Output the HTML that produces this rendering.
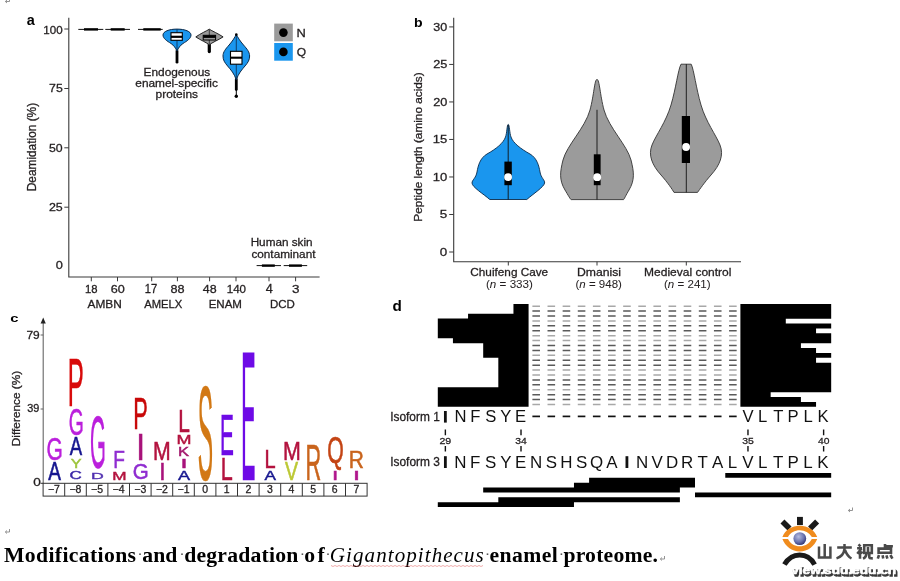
<!DOCTYPE html>
<html><head><meta charset="utf-8"><style>
html,body{margin:0;padding:0;background:#fff;}
body{width:900px;height:581px;overflow:hidden;font-family:"Liberation Sans",sans-serif;}
svg{display:block;will-change:transform;}
</style></head><body>
<svg width="900" height="581" viewBox="0 0 900 581">
<rect width="900" height="581" fill="#fff"/>
<text font-family="Liberation Sans" font-size="100" font-weight="bold" fill="#000"  transform="matrix(0.14460,0,0,0.14247,26.866,24.758)">a</text>
<path d="M68.8,17.8V277H319.6" fill="none" stroke="#3a3a3a" stroke-width="1.1"/>
<path d="M64.3,29H68.8" stroke="#3a3a3a" stroke-width="1"/>
<path d="M64.3,88.5H68.8" stroke="#3a3a3a" stroke-width="1"/>
<path d="M64.3,147.8H68.8" stroke="#3a3a3a" stroke-width="1"/>
<path d="M64.3,207.2H68.8" stroke="#3a3a3a" stroke-width="1"/>
<text font-family="Liberation Sans" font-size="100" fill="#231f20" stroke="#231f20" stroke-width="0.3" vector-effect="non-scaling-stroke"  transform="matrix(0.11576,0,0,0.10883,43.332,33.791)">100</text>
<text font-family="Liberation Sans" font-size="100" fill="#231f20" stroke="#231f20" stroke-width="0.3" vector-effect="non-scaling-stroke"  transform="matrix(0.12285,0,0,0.11183,49.055,92.288)">75</text>
<text font-family="Liberation Sans" font-size="100" fill="#231f20" stroke="#231f20" stroke-width="0.3" vector-effect="non-scaling-stroke"  transform="matrix(0.12300,0,0,0.11025,49.008,151.590)">50</text>
<text font-family="Liberation Sans" font-size="100" fill="#231f20" stroke="#231f20" stroke-width="0.3" vector-effect="non-scaling-stroke"  transform="matrix(0.12451,0,0,0.11025,48.877,210.990)">25</text>
<text font-family="Liberation Sans" font-size="100" fill="#231f20" stroke="#231f20" stroke-width="0.3" vector-effect="non-scaling-stroke"  transform="matrix(0.12775,0,0,0.11025,55.689,269.390)">0</text>
<text font-family="Liberation Sans" font-size="100" fill="#231f20" stroke="#231f20" stroke-width="0.3" vector-effect="non-scaling-stroke" transform="matrix(0,-0.11886,0.11927,0,36.400,191.281)">Deamidation (%)</text>
<path d="M91.3,277V281.3" stroke="#3a3a3a" stroke-width="1"/>
<text font-family="Liberation Sans" font-size="100" fill="#231f20" stroke="#231f20" stroke-width="0.3" vector-effect="non-scaling-stroke"  transform="matrix(0.11285,0,0,0.11731,84.954,292.783)">18</text>
<path d="M117.5,277V281.3" stroke="#3a3a3a" stroke-width="1"/>
<text font-family="Liberation Sans" font-size="100" fill="#231f20" stroke="#231f20" stroke-width="0.3" vector-effect="non-scaling-stroke"  transform="matrix(0.12616,0,0,0.11731,110.669,292.783)">60</text>
<path d="M151.7,277V281.3" stroke="#3a3a3a" stroke-width="1"/>
<text font-family="Liberation Sans" font-size="100" fill="#231f20" stroke="#231f20" stroke-width="0.3" vector-effect="non-scaling-stroke"  transform="matrix(0.11168,0,0,0.12073,144.762,292.900)">17</text>
<path d="M177.4,277V281.3" stroke="#3a3a3a" stroke-width="1"/>
<text font-family="Liberation Sans" font-size="100" fill="#231f20" stroke="#231f20" stroke-width="0.3" vector-effect="non-scaling-stroke"  transform="matrix(0.12683,0,0,0.11731,170.461,292.783)">88</text>
<path d="M209.6,277V281.3" stroke="#3a3a3a" stroke-width="1"/>
<text font-family="Liberation Sans" font-size="100" fill="#231f20" stroke="#231f20" stroke-width="0.3" vector-effect="non-scaling-stroke"  transform="matrix(0.12440,0,0,0.11731,202.720,292.783)">48</text>
<path d="M236,277V281.3" stroke="#3a3a3a" stroke-width="1"/>
<text font-family="Liberation Sans" font-size="100" fill="#231f20" stroke="#231f20" stroke-width="0.3" vector-effect="non-scaling-stroke"  transform="matrix(0.11576,0,0,0.11731,226.732,292.783)">140</text>
<path d="M269,277V281.3" stroke="#3a3a3a" stroke-width="1"/>
<text font-family="Liberation Sans" font-size="100" fill="#231f20" stroke="#231f20" stroke-width="0.3" vector-effect="non-scaling-stroke"  transform="matrix(0.12673,0,0,0.12073,265.715,292.900)">4</text>
<path d="M295.6,277V281.3" stroke="#3a3a3a" stroke-width="1"/>
<text font-family="Liberation Sans" font-size="100" fill="#231f20" stroke="#231f20" stroke-width="0.3" vector-effect="non-scaling-stroke"  transform="matrix(0.13474,0,0,0.11731,292.095,292.783)">3</text>
<text font-family="Liberation Sans" font-size="100" fill="#231f20" stroke="#231f20" stroke-width="0.3" vector-effect="non-scaling-stroke" transform="matrix(0.11872,0,0,0.11636,87.470,308.200)">AMBN</text>
<text font-family="Liberation Sans" font-size="100" fill="#231f20" stroke="#231f20" stroke-width="0.3" vector-effect="non-scaling-stroke" transform="matrix(0.11233,0,0,0.11636,144.172,308.200)">AMELX</text>
<text font-family="Liberation Sans" font-size="100" fill="#231f20" stroke="#231f20" stroke-width="0.3" vector-effect="non-scaling-stroke" transform="matrix(0.11534,0,0,0.11636,208.648,308.200)">ENAM</text>
<text font-family="Liberation Sans" font-size="100" fill="#231f20" stroke="#231f20" stroke-width="0.3" vector-effect="non-scaling-stroke" transform="matrix(0.11485,0,0,0.11636,270.053,308.200)">DCD</text>
<path d="M78.3,29.4H103.3" stroke="#111" stroke-width="1"/><path d="M84,29.4H98" stroke="#000" stroke-width="2.4"/>
<path d="M105.3,29.4H130" stroke="#111" stroke-width="1"/><path d="M110.7,29.4H124.7" stroke="#000" stroke-width="2.4"/>
<path d="M138,29.4H162.7" stroke="#111" stroke-width="1"/><path d="M143.3,29.4H160.7" stroke="#000" stroke-width="2.4"/>
<path d="M256.6,265.6H281" stroke="#111" stroke-width="1"/><path d="M261.9,265.6H274.8" stroke="#000" stroke-width="2.4"/>
<path d="M283.7,265.6H307.2" stroke="#111" stroke-width="1"/><path d="M289,265.6H301.9" stroke="#000" stroke-width="2.4"/>
<path d="M177,51V62.2" stroke="#000" stroke-width="2.8" stroke-linecap="round"/>
<path d="M177,29.1C185,29.1 191,31.5 191,35C191,38.5 187,41 183,43.5C180,45.5 178.5,48 177,51C175.5,48 174,45.5 171,43.5C167,41 163,38.5 163,35C163,31.5 169,29.1 177,29.1Z" fill="#1a96ee" stroke="#0b2a4a" stroke-width="1"/>
<path d="M177,29.3V51" stroke="#0b2a4a" stroke-width="0.8"/>
<rect x="171" y="32.7" width="11.3" height="7.6" fill="#fff" stroke="#000" stroke-width="1.1"/><path d="M171,36.8H182.3" stroke="#000" stroke-width="2.2"/>
<path d="M209.3,44.5V51.6" stroke="#000" stroke-width="3.2" stroke-linecap="round"/>
<path d="M209.3,29.2C212,31 218,33.5 223.1,36.9C218,40.2 212,42.5 209.3,44.9C206.6,42.5 200.6,40.2 195.8,36.9C200.6,33.5 206.6,31 209.3,29.2Z" fill="#9b9b9b" stroke="#222" stroke-width="1" stroke-linejoin="round"/>
<path d="M209.3,29.4V44.8" stroke="#222" stroke-width="0.8"/>
<rect x="203.2" y="35.3" width="12.4" height="4.7" fill="#9b9b9b" stroke="#000" stroke-width="1"/><path d="M203.2,36.6H215.6" stroke="#000" stroke-width="2.6"/>
<path d="M236.3,79.5V89.5" stroke="#000" stroke-width="2.8" stroke-linecap="round"/><path d="M236.3,89V96" stroke="#000" stroke-width="1"/><circle cx="236.3" cy="96.2" r="1.7" fill="#000"/>
<path d="M236.3,34.2C237.5,37 240,41 243.5,45C247,49 249.6,52 249.6,56C249.6,60 248,62.5 245,66C242,69.5 238,74 236.3,80C234.6,74 230.6,69.5 227.6,66C224.6,62.5 223,60 223,56C223,52 225.6,49 229.1,45C232.6,41 235.1,37 236.3,34.2Z" fill="#1a96ee" stroke="#0b2a4a" stroke-width="1"/>
<path d="M236.3,34.4V80" stroke="#0b2a4a" stroke-width="0.8"/><circle cx="236.3" cy="34.6" r="1.3" fill="#000"/>
<rect x="230.5" y="51.3" width="11.5" height="12.9" fill="#fff" stroke="#000" stroke-width="1.1"/><path d="M230.5,57.7H242" stroke="#000" stroke-width="2.1"/>
<text font-family="Liberation Sans" font-size="100" fill="#231f20" stroke="#231f20" stroke-width="0.3" vector-effect="non-scaling-stroke" transform="matrix(0.11855,0,0,0.11636,143.622,75.600)">Endogenous</text>
<text font-family="Liberation Sans" font-size="100" fill="#231f20" stroke="#231f20" stroke-width="0.3" vector-effect="non-scaling-stroke" transform="matrix(0.11894,0,0,0.11636,135.295,87.200)">enamel-specific</text>
<text font-family="Liberation Sans" font-size="100" fill="#231f20" stroke="#231f20" stroke-width="0.3" vector-effect="non-scaling-stroke" transform="matrix(0.11945,0,0,0.11636,155.524,97.800)">proteins</text>
<text font-family="Liberation Sans" font-size="100" fill="#231f20" stroke="#231f20" stroke-width="0.3" vector-effect="non-scaling-stroke" transform="matrix(0.11749,0,0,0.11636,250.631,246.000)">Human skin</text>
<text font-family="Liberation Sans" font-size="100" fill="#231f20" stroke="#231f20" stroke-width="0.3" vector-effect="non-scaling-stroke" transform="matrix(0.11783,0,0,0.11636,251.399,257.600)">contaminant</text>
<rect x="274.2" y="23.6" width="18.6" height="17.7" fill="#9b9b9b"/><rect x="274.2" y="43" width="18.6" height="17.7" fill="#1a96ee"/>
<circle cx="283.4" cy="32.6" r="4.3" fill="#000"/><circle cx="283.4" cy="51.9" r="4.3" fill="#000"/>
<text font-family="Liberation Sans" font-size="100" fill="#231f20" stroke="#231f20" stroke-width="0.3" vector-effect="non-scaling-stroke" transform="matrix(0.12915,0,0,0.11782,296.535,37.000)">N</text>
<text font-family="Liberation Sans" font-size="100" fill="#231f20" stroke="#231f20" stroke-width="0.3" vector-effect="non-scaling-stroke" transform="matrix(0.12015,0,0,0.11636,296.829,56.200)">Q</text>
<text font-family="Liberation Sans" font-size="100" font-weight="bold" fill="#000"  transform="matrix(0.14059,0,0,0.12381,413.986,26.776)">b</text>
<path d="M453.7,17.8V261.7H741" fill="none" stroke="#3a3a3a" stroke-width="1.1"/>
<path d="M449.2,252.00H453.7" stroke="#3a3a3a" stroke-width="1"/>
<text font-family="Liberation Sans" font-size="100" fill="#231f20" stroke="#231f20" stroke-width="0.3" vector-effect="non-scaling-stroke"  transform="matrix(0.13403,0,0,0.11025,439.864,255.790)">0</text>
<path d="M449.2,214.49H453.7" stroke="#3a3a3a" stroke-width="1"/>
<text font-family="Liberation Sans" font-size="100" fill="#231f20" stroke="#231f20" stroke-width="0.3" vector-effect="non-scaling-stroke"  transform="matrix(0.13474,0,0,0.11183,439.861,218.273)">5</text>
<path d="M449.2,176.97H453.7" stroke="#3a3a3a" stroke-width="1"/>
<text font-family="Liberation Sans" font-size="100" fill="#231f20" stroke="#231f20" stroke-width="0.3" vector-effect="non-scaling-stroke"  transform="matrix(0.13033,0,0,0.11025,432.823,180.760)">10</text>
<path d="M449.2,139.45H453.7" stroke="#3a3a3a" stroke-width="1"/>
<text font-family="Liberation Sans" font-size="100" fill="#231f20" stroke="#231f20" stroke-width="0.3" vector-effect="non-scaling-stroke"  transform="matrix(0.13065,0,0,0.11183,432.820,143.243)">15</text>
<path d="M449.2,101.94H453.7" stroke="#3a3a3a" stroke-width="1"/>
<text font-family="Liberation Sans" font-size="100" fill="#231f20" stroke="#231f20" stroke-width="0.3" vector-effect="non-scaling-stroke"  transform="matrix(0.12714,0,0,0.11025,433.164,105.730)">20</text>
<path d="M449.2,64.43H453.7" stroke="#3a3a3a" stroke-width="1"/>
<text font-family="Liberation Sans" font-size="100" fill="#231f20" stroke="#231f20" stroke-width="0.3" vector-effect="non-scaling-stroke"  transform="matrix(0.12745,0,0,0.11025,433.163,68.215)">25</text>
<path d="M449.2,26.91H453.7" stroke="#3a3a3a" stroke-width="1"/>
<text font-family="Liberation Sans" font-size="100" fill="#231f20" stroke="#231f20" stroke-width="0.3" vector-effect="non-scaling-stroke"  transform="matrix(0.12560,0,0,0.11025,433.329,30.700)">30</text>
<text font-family="Liberation Sans" font-size="100" fill="#231f20" stroke="#231f20" stroke-width="0.3" vector-effect="non-scaling-stroke" transform="matrix(0,-0.11804,0.11491,0,422.200,221.674)">Peptide length (amino acids)</text>
<path d="M508.3,261.7V265.5" stroke="#3a3a3a" stroke-width="1"/>
<path d="M597,261.7V265.5" stroke="#3a3a3a" stroke-width="1"/>
<path d="M686.3,261.7V265.5" stroke="#3a3a3a" stroke-width="1"/>
<text font-family="Liberation Sans" font-size="100" fill="#231f20" stroke="#231f20" stroke-width="0.3" vector-effect="non-scaling-stroke" transform="matrix(0.11790,0,0,0.11782,470.311,275.900)">Chuifeng Cave</text>
<text font-family="Liberation Sans" font-size="100" fill="#231f20" stroke="#231f20" stroke-width="0.3" vector-effect="non-scaling-stroke" transform="matrix(0.12217,0,0,0.11782,576.892,275.900)">Dmanisi</text>
<text font-family="Liberation Sans" font-size="100" fill="#231f20" stroke="#231f20" stroke-width="0.3" vector-effect="non-scaling-stroke" transform="matrix(0.12001,0,0,0.11782,644.110,275.900)">Medieval control</text>
<text font-family="Liberation Sans" font-size="100" fill="#231f20" stroke="#231f20" stroke-width="0.3" vector-effect="non-scaling-stroke" xml:space="preserve" transform="matrix(0.11654,0,0,0.11345,485.972,287.800)"><tspan>(</tspan><tspan font-style="italic">n</tspan><tspan> = 333)</tspan></text>
<text font-family="Liberation Sans" font-size="100" fill="#231f20" stroke="#231f20" stroke-width="0.3" vector-effect="non-scaling-stroke" xml:space="preserve" transform="matrix(0.11526,0,0,0.11345,575.480,287.800)"><tspan>(</tspan><tspan font-style="italic">n</tspan><tspan> = 948)</tspan></text>
<text font-family="Liberation Sans" font-size="100" fill="#231f20" stroke="#231f20" stroke-width="0.3" vector-effect="non-scaling-stroke" xml:space="preserve" transform="matrix(0.11577,0,0,0.11345,663.976,287.800)"><tspan>(</tspan><tspan font-style="italic">n</tspan><tspan> = 241)</tspan></text>
<path d="M508.2,124.4C509.5,124.4 509.5,133 511,137C513,143 521,149 530,154C537,158 539,166 540,172C541,178 545,180 544.6,183C544,187 533,194 526.8,199.5H489.8C483.5,194 472,187 472,183C472,180 476,178 477,172C478,166 480,158 487,154C496,149 503.5,143 505.5,137C507,133 507,124.4 508.2,124.4Z" fill="#1a96ee" stroke="#0b2a4a" stroke-width="0.9"/>
<path d="M508.2,124.8V199.5" stroke="#111" stroke-width="0.9"/>
<rect x="504.4" y="161.6" width="7.4" height="23.6" fill="#000"/><circle cx="508.1" cy="177.1" r="3.9" fill="#fff"/>
<path d="M597,79.4C599.5,79.4 600,95 604,110C609,128 627,145 631,160C634,172 635,180 629,190C626,195 624,199.6 623.5,199.6H571.2C570.5,199.6 568,195 565,190C559,180 560,172 563,160C567,145 585,128 590,110C594,95 594.5,79.4 597,79.4Z" fill="#9b9b9b" stroke="#333" stroke-width="0.9"/>
<path d="M597,109.8V199.6" stroke="#111" stroke-width="0.9"/>
<rect x="593.8" y="154.3" width="6.8" height="30.9" fill="#000"/><circle cx="597.2" cy="177.2" r="3.9" fill="#fff"/>
<path d="M681,64.2H691.2C694,70 696,88 701,105C706,122 716,135 720,145C724,155 720,165 711,175C704,183 700,189 697.5,192.4H674C672,189 668,183 661,175C652,165 648,155 652,145C656,135 666,122 671,105C676,88 678,70 681,64.2Z" fill="#9b9b9b" stroke="#333" stroke-width="0.9"/>
<path d="M686.3,64.2V192.4" stroke="#111" stroke-width="0.9"/>
<rect x="681.8" y="116" width="8.2" height="47" fill="#000"/><circle cx="686.1" cy="147" r="3.9" fill="#fff"/>
<text font-family="Liberation Sans" font-size="100" font-weight="bold" fill="#000"  transform="matrix(0.14769,0,0,0.11689,10.209,321.683)">c</text>
<path d="M43.2,322V483.3" stroke="#666" stroke-width="1.1"/><path d="M43.2,317.6L40.6,323.6H45.8Z" fill="#222"/>
<path d="M40.6,335H43.2" stroke="#555" stroke-width="0.9"/>
<path d="M40.6,409H43.2" stroke="#555" stroke-width="0.9"/>
<text font-family="Liberation Sans" font-size="100" fill="#231f20" stroke="#231f20" stroke-width="0.3" vector-effect="non-scaling-stroke"  transform="matrix(0.11951,0,0,0.11307,26.473,338.887)">79</text>
<text font-family="Liberation Sans" font-size="100" fill="#231f20" stroke="#231f20" stroke-width="0.3" vector-effect="non-scaling-stroke"  transform="matrix(0.10900,0,0,0.10459,27.191,412.095)">39</text>
<text font-family="Liberation Sans" font-size="100" fill="#231f20" stroke="#231f20" stroke-width="0.3" vector-effect="non-scaling-stroke"  transform="matrix(0.13613,0,0,0.10177,33.155,486.498)">0</text>
<text font-family="Liberation Sans" font-size="100" fill="#231f20" stroke="#231f20" stroke-width="0.3" vector-effect="non-scaling-stroke" transform="matrix(0,-0.11851,0.11200,0,19.900,446.178)">Difference (%)</text>
<rect x="43.1" y="483.3" width="324" height="12.8" fill="#fff" stroke="#333" stroke-width="1"/>
<path d="M40.6,483.3H43.1" stroke="#333" stroke-width="1"/>
<text font-family="Liberation Sans" font-size="100" fill="#231f20" stroke="#231f20" stroke-width="0.3" vector-effect="non-scaling-stroke" transform="matrix(0.10473,0,0,0.10473,47.931,493.3)">−7</text>
<path d="M64.70,483.3V496.1" stroke="#333" stroke-width="1"/>
<text font-family="Liberation Sans" font-size="100" fill="#231f20" stroke="#231f20" stroke-width="0.3" vector-effect="non-scaling-stroke" transform="matrix(0.10473,0,0,0.10473,69.491,493.3)">−8</text>
<path d="M86.30,483.3V496.1" stroke="#333" stroke-width="1"/>
<text font-family="Liberation Sans" font-size="100" fill="#231f20" stroke="#231f20" stroke-width="0.3" vector-effect="non-scaling-stroke" transform="matrix(0.10473,0,0,0.10473,91.078,493.3)">−5</text>
<path d="M107.90,483.3V496.1" stroke="#333" stroke-width="1"/>
<text font-family="Liberation Sans" font-size="100" fill="#231f20" stroke="#231f20" stroke-width="0.3" vector-effect="non-scaling-stroke" transform="matrix(0.10473,0,0,0.10473,112.613,493.3)">−4</text>
<path d="M129.50,483.3V496.1" stroke="#333" stroke-width="1"/>
<text font-family="Liberation Sans" font-size="100" fill="#231f20" stroke="#231f20" stroke-width="0.3" vector-effect="non-scaling-stroke" transform="matrix(0.10473,0,0,0.10473,134.291,493.3)">−3</text>
<path d="M151.10,483.3V496.1" stroke="#333" stroke-width="1"/>
<text font-family="Liberation Sans" font-size="100" fill="#231f20" stroke="#231f20" stroke-width="0.3" vector-effect="non-scaling-stroke" transform="matrix(0.10473,0,0,0.10473,155.931,493.3)">−2</text>
<path d="M172.70,483.3V496.1" stroke="#333" stroke-width="1"/>
<text font-family="Liberation Sans" font-size="100" fill="#231f20" stroke="#231f20" stroke-width="0.3" vector-effect="non-scaling-stroke" transform="matrix(0.10473,0,0,0.10473,177.517,493.3)">−1</text>
<path d="M194.30,483.3V496.1" stroke="#333" stroke-width="1"/>
<text font-family="Liberation Sans" font-size="100" fill="#231f20" stroke="#231f20" stroke-width="0.3" vector-effect="non-scaling-stroke" transform="matrix(0.10473,0,0,0.10473,202.181,493.3)">0</text>
<path d="M215.90,483.3V496.1" stroke="#333" stroke-width="1"/>
<text font-family="Liberation Sans" font-size="100" fill="#231f20" stroke="#231f20" stroke-width="0.3" vector-effect="non-scaling-stroke" transform="matrix(0.10473,0,0,0.10473,223.650,493.3)">1</text>
<path d="M237.50,483.3V496.1" stroke="#333" stroke-width="1"/>
<text font-family="Liberation Sans" font-size="100" fill="#231f20" stroke="#231f20" stroke-width="0.3" vector-effect="non-scaling-stroke" transform="matrix(0.10473,0,0,0.10473,245.394,493.3)">2</text>
<path d="M259.10,483.3V496.1" stroke="#333" stroke-width="1"/>
<text font-family="Liberation Sans" font-size="100" fill="#231f20" stroke="#231f20" stroke-width="0.3" vector-effect="non-scaling-stroke" transform="matrix(0.10473,0,0,0.10473,267.020,493.3)">3</text>
<path d="M280.70,483.3V496.1" stroke="#333" stroke-width="1"/>
<text font-family="Liberation Sans" font-size="100" fill="#231f20" stroke="#231f20" stroke-width="0.3" vector-effect="non-scaling-stroke" transform="matrix(0.10473,0,0,0.10473,288.620,493.3)">4</text>
<path d="M302.30,483.3V496.1" stroke="#333" stroke-width="1"/>
<text font-family="Liberation Sans" font-size="100" fill="#231f20" stroke="#231f20" stroke-width="0.3" vector-effect="non-scaling-stroke" transform="matrix(0.10473,0,0,0.10473,310.194,493.3)">5</text>
<path d="M323.90,483.3V496.1" stroke="#333" stroke-width="1"/>
<text font-family="Liberation Sans" font-size="100" fill="#231f20" stroke="#231f20" stroke-width="0.3" vector-effect="non-scaling-stroke" transform="matrix(0.10473,0,0,0.10473,331.755,493.3)">6</text>
<path d="M345.50,483.3V496.1" stroke="#333" stroke-width="1"/>
<text font-family="Liberation Sans" font-size="100" fill="#231f20" stroke="#231f20" stroke-width="0.3" vector-effect="non-scaling-stroke" transform="matrix(0.10473,0,0,0.10473,353.381,493.3)">7</text>
<text font-family="Liberation Sans" font-size="100" fill="#16168f" stroke="#16168f" stroke-width="0.5" vector-effect="non-scaling-stroke" transform="matrix(0.19019,0,0,0.24873,48.302,480.250)">A</text>
<text font-family="Liberation Sans" font-size="100" fill="#bb1fdc" stroke="#bb1fdc" stroke-width="0.5" vector-effect="non-scaling-stroke" transform="matrix(0.20996,0,0,0.31943,46.600,459.531)">G</text>
<text font-family="Liberation Sans" font-size="100" fill="#3c2aa8" stroke="#3c2aa8" stroke-width="0.5" vector-effect="non-scaling-stroke" transform="matrix(0.17075,0,0,0.10035,69.596,479.050)">C</text>
<text font-family="Liberation Sans" font-size="100" fill="#9cc43a" stroke="#9cc43a" stroke-width="0.5" vector-effect="non-scaling-stroke" transform="matrix(0.16225,0,0,0.12655,70.785,468.350)">Y</text>
<text font-family="Liberation Sans" font-size="100" fill="#16168f" stroke="#16168f" stroke-width="0.5" vector-effect="non-scaling-stroke" transform="matrix(0.18566,0,0,0.25309,69.704,455.450)">A</text>
<text font-family="Liberation Sans" font-size="100" fill="#bb1fdc" stroke="#bb1fdc" stroke-width="0.5" vector-effect="non-scaling-stroke" transform="matrix(0.19310,0,0,0.36749,68.784,434.983)">G</text>
<text font-family="Liberation Sans" font-size="100" fill="#d80a0a" stroke="#d80a0a" stroke-width="0.5" vector-effect="non-scaling-stroke" transform="matrix(0.24038,0,0,0.69382,67.867,405.750)">P</text>
<text font-family="Liberation Sans" font-size="100" fill="#5030b0" stroke="#5030b0" stroke-width="0.5" vector-effect="non-scaling-stroke" transform="matrix(0.17722,0,0,0.09309,90.988,479.150)">D</text>
<text font-family="Liberation Sans" font-size="100" fill="#bb1fdc" stroke="#bb1fdc" stroke-width="0.5" vector-effect="non-scaling-stroke" transform="matrix(0.20383,0,0,0.74205,90.031,468.008)">G</text>
<text font-family="Liberation Sans" font-size="100" fill="#b3123e" stroke="#b3123e" stroke-width="0.5" vector-effect="non-scaling-stroke" transform="matrix(0.17228,0,0,0.11345,112.229,479.750)">M</text>
<text font-family="Liberation Sans" font-size="100" fill="#8f2cd0" stroke="#8f2cd0" stroke-width="0.5" vector-effect="non-scaling-stroke" transform="matrix(0.19077,0,0,0.24145,113.176,467.650)">F</text>
<text font-family="Liberation Sans" font-size="100" fill="#8f2cd0" stroke="#8f2cd0" stroke-width="0.5" vector-effect="non-scaling-stroke" transform="matrix(0.20536,0,0,0.22756,132.823,479.022)">G</text>
<text font-family="Liberation Sans" font-size="100" fill="#a8127a" stroke="#a8127a" stroke-width="0.5" vector-effect="non-scaling-stroke" transform="matrix(0.31351,0,0,0.37091,136.350,459.550)">I</text>
<text font-family="Liberation Sans" font-size="100" fill="#c80808" stroke="#c80808" stroke-width="0.5" vector-effect="non-scaling-stroke" transform="matrix(0.21784,0,0,0.43636,133.153,429.150)">P</text>
<text font-family="Liberation Sans" font-size="100" fill="#a8127a" stroke="#a8127a" stroke-width="0.5" vector-effect="non-scaling-stroke" transform="matrix(0.22703,0,0,0.24145,159.150,480.050)">I</text>
<text font-family="Liberation Sans" font-size="100" fill="#b3123e" stroke="#b3123e" stroke-width="0.5" vector-effect="non-scaling-stroke" transform="matrix(0.21273,0,0,0.25164,152.995,459.850)">M</text>
<text font-family="Liberation Sans" font-size="100" fill="#16168f" stroke="#16168f" stroke-width="0.5" vector-effect="non-scaling-stroke" transform="matrix(0.18113,0,0,0.13091,178.005,480.150)">A</text>
<text font-family="Liberation Sans" font-size="100" fill="#a8127a" stroke="#a8127a" stroke-width="0.5" vector-effect="non-scaling-stroke" transform="matrix(0.27027,0,0,0.13236,180.150,468.150)">I</text>
<text font-family="Liberation Sans" font-size="100" fill="#a3186c" stroke="#a3186c" stroke-width="0.5" vector-effect="non-scaling-stroke" transform="matrix(0.16594,0,0,0.12655,178.081,455.950)">K</text>
<text font-family="Liberation Sans" font-size="100" fill="#b3123e" stroke="#b3123e" stroke-width="0.5" vector-effect="non-scaling-stroke" transform="matrix(0.17978,0,0,0.12073,176.567,444.350)">M</text>
<text font-family="Liberation Sans" font-size="100" fill="#b3123e" stroke="#b3123e" stroke-width="0.5" vector-effect="non-scaling-stroke" transform="matrix(0.20909,0,0,0.31273,178.125,431.950)">L</text>
<text font-family="Liberation Sans" font-size="100" fill="#d27814" stroke="#d27814" stroke-width="0.5" vector-effect="non-scaling-stroke" transform="matrix(0.22957,0,0,1.33993,197.717,480.010)">S</text>
<text font-family="Liberation Sans" font-size="100" fill="#b3123e" stroke="#b3123e" stroke-width="0.5" vector-effect="non-scaling-stroke" transform="matrix(0.21591,0,0,0.32145,220.869,480.150)">L</text>
<text font-family="Liberation Sans" font-size="100" fill="#6e0ae6" stroke="#6e0ae6" stroke-width="0.5" vector-effect="non-scaling-stroke" transform="matrix(0.20829,0,0,0.57018,220.032,454.750)">E</text>
<text font-family="Liberation Sans" font-size="100" fill="#16168f" stroke="#16168f" stroke-width="0.5" vector-effect="non-scaling-stroke" transform="matrix(0.17208,0,0,0.12800,264.507,480.250)">A</text>
<text font-family="Liberation Sans" font-size="100" fill="#b3123e" stroke="#b3123e" stroke-width="0.5" vector-effect="non-scaling-stroke" transform="matrix(0.20000,0,0,0.25164,264.400,467.850)">L</text>
<text font-family="Liberation Sans" font-size="100" fill="#bcc834" stroke="#bcc834" stroke-width="0.5" vector-effect="non-scaling-stroke" transform="matrix(0.19620,0,0,0.25164,285.052,480.250)">V</text>
<text font-family="Liberation Sans" font-size="100" fill="#b3123e" stroke="#b3123e" stroke-width="0.5" vector-effect="non-scaling-stroke" transform="matrix(0.21423,0,0,0.26036,282.883,459.850)">M</text>
<text font-family="Liberation Sans" font-size="100" fill="#c9641c" stroke="#c9641c" stroke-width="0.5" vector-effect="non-scaling-stroke" transform="matrix(0.21772,0,0,0.49455,305.554,480.450)">R</text>
<text font-family="Liberation Sans" font-size="100" fill="#b0158c" stroke="#b0158c" stroke-width="0.5" vector-effect="non-scaling-stroke" transform="matrix(0.22703,0,0,0.12364,332.050,480.450)">I</text>
<text font-family="Liberation Sans" font-size="100" fill="#c44414" stroke="#c44414" stroke-width="0.5" vector-effect="non-scaling-stroke" transform="matrix(0.21245,0,0,0.36507,327.241,463.014)">Q</text>
<text font-family="Liberation Sans" font-size="100" fill="#b0158c" stroke="#b0158c" stroke-width="0.5" vector-effect="non-scaling-stroke" transform="matrix(0.27027,0,0,0.12364,352.850,480.450)">I</text>
<text font-family="Liberation Sans" font-size="100" fill="#c9641c" stroke="#c9641c" stroke-width="0.5" vector-effect="non-scaling-stroke" transform="matrix(0.20928,0,0,0.24582,348.823,467.950)">R</text>
<path d="M242.8,352.6H254.4V367.5H245.1V407.3H253.8V421.2H245.1V465.7H254.6V480.2H242.8Z" fill="#6e0ae6"/>
<text font-family="Liberation Sans" font-size="100" font-weight="bold" fill="#000"  transform="matrix(0.15248,0,0,0.14150,392.390,311.059)">d</text>
<path d="M513.45,303.90H528.58V308.85H513.45ZM513.45,308.80H528.58V313.75H513.45ZM468.06,313.70H528.58V318.65H468.06ZM437.80,318.60H528.58V323.55H437.80ZM437.80,323.50H528.58V328.45H437.80ZM437.80,328.40H528.58V333.35H437.80ZM437.80,333.30H528.58V338.25H437.80ZM452.93,338.20H528.58V343.15H452.93ZM483.19,343.10H528.58V348.05H483.19ZM483.19,348.00H528.58V352.95H483.19ZM483.19,352.90H528.58V357.85H483.19ZM498.32,357.80H528.58V362.75H498.32ZM498.32,362.70H528.58V367.65H498.32ZM498.32,367.60H528.58V372.55H498.32ZM498.32,372.50H528.58V377.45H498.32ZM498.32,377.40H528.58V382.35H498.32ZM498.32,382.30H528.58V387.25H498.32ZM437.80,387.20H528.58V392.15H437.80ZM437.80,392.10H528.58V397.05H437.80ZM437.80,397.00H528.58V401.95H437.80ZM437.80,401.90H528.58V406.85H437.80ZM740.40,303.90H831.18V308.85H740.40ZM740.40,308.80H831.18V313.75H740.40ZM740.40,313.70H831.18V318.65H740.40ZM740.40,318.60H785.79V323.55H740.40ZM740.40,323.50H831.18V328.45H740.40ZM740.40,328.40H816.05V333.35H740.40ZM740.40,333.30H831.18V338.25H740.40ZM740.40,338.20H831.18V343.15H740.40ZM740.40,343.10H800.92V348.05H740.40ZM740.40,348.00H816.05V352.95H740.40ZM740.40,352.90H831.18V357.85H740.40ZM740.40,357.80H816.05V362.75H740.40ZM740.40,362.70H831.18V367.65H740.40ZM740.40,367.60H831.18V372.55H740.40ZM740.40,372.50H831.18V377.45H740.40ZM740.40,377.40H831.18V382.35H740.40ZM740.40,382.30H831.18V387.25H740.40ZM740.40,387.20H831.18V392.15H740.40ZM740.40,392.10H770.66V397.05H740.40ZM740.40,397.00H800.92V401.95H740.40ZM740.40,401.90H816.05V406.85H740.40Z" fill="#000"/>
<path d="M532.38,306.20h7.6M547.51,306.20h7.6M562.64,306.20h7.6M577.77,306.20h7.6M592.90,306.20h7.6M608.03,306.20h7.6M623.16,306.20h7.6M638.29,306.20h7.6M653.42,306.20h7.6M668.55,306.20h7.6M683.68,306.20h7.6M698.81,306.20h7.6M713.94,306.20h7.6M729.07,306.20h7.6" stroke="#a8a8a8" stroke-width="1.5"/>
<path d="M532.38,311.12h7.6M547.51,311.12h7.6M562.64,311.12h7.6M577.77,311.12h7.6M592.90,311.12h7.6M608.03,311.12h7.6M623.16,311.12h7.6M638.29,311.12h7.6M653.42,311.12h7.6M668.55,311.12h7.6M683.68,311.12h7.6M698.81,311.12h7.6M713.94,311.12h7.6M729.07,311.12h7.6" stroke="#5a5a5a" stroke-width="1.5"/>
<path d="M532.38,316.03h7.6M547.51,316.03h7.6M562.64,316.03h7.6M577.77,316.03h7.6M592.90,316.03h7.6M608.03,316.03h7.6M623.16,316.03h7.6M638.29,316.03h7.6M653.42,316.03h7.6M668.55,316.03h7.6M683.68,316.03h7.6M698.81,316.03h7.6M713.94,316.03h7.6M729.07,316.03h7.6" stroke="#5a5a5a" stroke-width="1.5"/>
<path d="M532.38,320.94h7.6M547.51,320.94h7.6M562.64,320.94h7.6M577.77,320.94h7.6M592.90,320.94h7.6M608.03,320.94h7.6M623.16,320.94h7.6M638.29,320.94h7.6M653.42,320.94h7.6M668.55,320.94h7.6M683.68,320.94h7.6M698.81,320.94h7.6M713.94,320.94h7.6M729.07,320.94h7.6" stroke="#a8a8a8" stroke-width="1.5"/>
<path d="M532.38,325.86h7.6M547.51,325.86h7.6M562.64,325.86h7.6M577.77,325.86h7.6M592.90,325.86h7.6M608.03,325.86h7.6M623.16,325.86h7.6M638.29,325.86h7.6M653.42,325.86h7.6M668.55,325.86h7.6M683.68,325.86h7.6M698.81,325.86h7.6M713.94,325.86h7.6M729.07,325.86h7.6" stroke="#5a5a5a" stroke-width="1.5"/>
<path d="M532.38,330.77h7.6M547.51,330.77h7.6M562.64,330.77h7.6M577.77,330.77h7.6M592.90,330.77h7.6M608.03,330.77h7.6M623.16,330.77h7.6M638.29,330.77h7.6M653.42,330.77h7.6M668.55,330.77h7.6M683.68,330.77h7.6M698.81,330.77h7.6M713.94,330.77h7.6M729.07,330.77h7.6" stroke="#5a5a5a" stroke-width="1.5"/>
<path d="M532.38,335.69h7.6M547.51,335.69h7.6M562.64,335.69h7.6M577.77,335.69h7.6M592.90,335.69h7.6M608.03,335.69h7.6M623.16,335.69h7.6M638.29,335.69h7.6M653.42,335.69h7.6M668.55,335.69h7.6M683.68,335.69h7.6M698.81,335.69h7.6M713.94,335.69h7.6M729.07,335.69h7.6" stroke="#a8a8a8" stroke-width="1.5"/>
<path d="M532.38,340.61h7.6M547.51,340.61h7.6M562.64,340.61h7.6M577.77,340.61h7.6M592.90,340.61h7.6M608.03,340.61h7.6M623.16,340.61h7.6M638.29,340.61h7.6M653.42,340.61h7.6M668.55,340.61h7.6M683.68,340.61h7.6M698.81,340.61h7.6M713.94,340.61h7.6M729.07,340.61h7.6" stroke="#a8a8a8" stroke-width="1.5"/>
<path d="M532.38,345.52h7.6M547.51,345.52h7.6M562.64,345.52h7.6M577.77,345.52h7.6M592.90,345.52h7.6M608.03,345.52h7.6M623.16,345.52h7.6M638.29,345.52h7.6M653.42,345.52h7.6M668.55,345.52h7.6M683.68,345.52h7.6M698.81,345.52h7.6M713.94,345.52h7.6M729.07,345.52h7.6" stroke="#5a5a5a" stroke-width="1.5"/>
<path d="M532.38,350.44h7.6M547.51,350.44h7.6M562.64,350.44h7.6M577.77,350.44h7.6M592.90,350.44h7.6M608.03,350.44h7.6M623.16,350.44h7.6M638.29,350.44h7.6M653.42,350.44h7.6M668.55,350.44h7.6M683.68,350.44h7.6M698.81,350.44h7.6M713.94,350.44h7.6M729.07,350.44h7.6" stroke="#5a5a5a" stroke-width="1.5"/>
<path d="M532.38,355.35h7.6M547.51,355.35h7.6M562.64,355.35h7.6M577.77,355.35h7.6M592.90,355.35h7.6M608.03,355.35h7.6M623.16,355.35h7.6M638.29,355.35h7.6M653.42,355.35h7.6M668.55,355.35h7.6M683.68,355.35h7.6M698.81,355.35h7.6M713.94,355.35h7.6M729.07,355.35h7.6" stroke="#a8a8a8" stroke-width="1.5"/>
<path d="M532.38,360.26h7.6M547.51,360.26h7.6M562.64,360.26h7.6M577.77,360.26h7.6M592.90,360.26h7.6M608.03,360.26h7.6M623.16,360.26h7.6M638.29,360.26h7.6M653.42,360.26h7.6M668.55,360.26h7.6M683.68,360.26h7.6M698.81,360.26h7.6M713.94,360.26h7.6M729.07,360.26h7.6" stroke="#5a5a5a" stroke-width="1.5"/>
<path d="M532.38,365.18h7.6M547.51,365.18h7.6M562.64,365.18h7.6M577.77,365.18h7.6M592.90,365.18h7.6M608.03,365.18h7.6M623.16,365.18h7.6M638.29,365.18h7.6M653.42,365.18h7.6M668.55,365.18h7.6M683.68,365.18h7.6M698.81,365.18h7.6M713.94,365.18h7.6M729.07,365.18h7.6" stroke="#5a5a5a" stroke-width="1.5"/>
<path d="M532.38,370.10h7.6M547.51,370.10h7.6M562.64,370.10h7.6M577.77,370.10h7.6M592.90,370.10h7.6M608.03,370.10h7.6M623.16,370.10h7.6M638.29,370.10h7.6M653.42,370.10h7.6M668.55,370.10h7.6M683.68,370.10h7.6M698.81,370.10h7.6M713.94,370.10h7.6M729.07,370.10h7.6" stroke="#a8a8a8" stroke-width="1.5"/>
<path d="M532.38,375.01h7.6M547.51,375.01h7.6M562.64,375.01h7.6M577.77,375.01h7.6M592.90,375.01h7.6M608.03,375.01h7.6M623.16,375.01h7.6M638.29,375.01h7.6M653.42,375.01h7.6M668.55,375.01h7.6M683.68,375.01h7.6M698.81,375.01h7.6M713.94,375.01h7.6M729.07,375.01h7.6" stroke="#a8a8a8" stroke-width="1.5"/>
<path d="M532.38,379.93h7.6M547.51,379.93h7.6M562.64,379.93h7.6M577.77,379.93h7.6M592.90,379.93h7.6M608.03,379.93h7.6M623.16,379.93h7.6M638.29,379.93h7.6M653.42,379.93h7.6M668.55,379.93h7.6M683.68,379.93h7.6M698.81,379.93h7.6M713.94,379.93h7.6M729.07,379.93h7.6" stroke="#5a5a5a" stroke-width="1.5"/>
<path d="M532.38,384.84h7.6M547.51,384.84h7.6M562.64,384.84h7.6M577.77,384.84h7.6M592.90,384.84h7.6M608.03,384.84h7.6M623.16,384.84h7.6M638.29,384.84h7.6M653.42,384.84h7.6M668.55,384.84h7.6M683.68,384.84h7.6M698.81,384.84h7.6M713.94,384.84h7.6M729.07,384.84h7.6" stroke="#5a5a5a" stroke-width="1.5"/>
<path d="M532.38,389.75h7.6M547.51,389.75h7.6M562.64,389.75h7.6M577.77,389.75h7.6M592.90,389.75h7.6M608.03,389.75h7.6M623.16,389.75h7.6M638.29,389.75h7.6M653.42,389.75h7.6M668.55,389.75h7.6M683.68,389.75h7.6M698.81,389.75h7.6M713.94,389.75h7.6M729.07,389.75h7.6" stroke="#a8a8a8" stroke-width="1.5"/>
<path d="M532.38,394.67h7.6M547.51,394.67h7.6M562.64,394.67h7.6M577.77,394.67h7.6M592.90,394.67h7.6M608.03,394.67h7.6M623.16,394.67h7.6M638.29,394.67h7.6M653.42,394.67h7.6M668.55,394.67h7.6M683.68,394.67h7.6M698.81,394.67h7.6M713.94,394.67h7.6M729.07,394.67h7.6" stroke="#5a5a5a" stroke-width="1.5"/>
<path d="M532.38,399.59h7.6M547.51,399.59h7.6M562.64,399.59h7.6M577.77,399.59h7.6M592.90,399.59h7.6M608.03,399.59h7.6M623.16,399.59h7.6M638.29,399.59h7.6M653.42,399.59h7.6M668.55,399.59h7.6M683.68,399.59h7.6M698.81,399.59h7.6M713.94,399.59h7.6M729.07,399.59h7.6" stroke="#5a5a5a" stroke-width="1.5"/>
<path d="M532.38,404.50h7.6M547.51,404.50h7.6M562.64,404.50h7.6M577.77,404.50h7.6M592.90,404.50h7.6M608.03,404.50h7.6M623.16,404.50h7.6M638.29,404.50h7.6M653.42,404.50h7.6M668.55,404.50h7.6M683.68,404.50h7.6M698.81,404.50h7.6M713.94,404.50h7.6M729.07,404.50h7.6" stroke="#a8a8a8" stroke-width="1.5"/>
<text font-family="Liberation Sans" font-size="100" fill="#231f20" stroke="#231f20" stroke-width="0.3" vector-effect="non-scaling-stroke" transform="matrix(0.11893,0,0,0.12364,390.200,421.200)">Isoform 1</text>
<text font-family="Liberation Sans" font-size="100" fill="#231f20" stroke="#231f20" stroke-width="0.3" vector-effect="non-scaling-stroke" transform="matrix(0.11928,0,0,0.12218,390.197,465.900)">Isoform 3</text>
<rect x="443.97" y="411.00" width="2.8" height="11.60" fill="#111"/>
<text font-family="Liberation Sans" font-size="100" fill="#111" transform="matrix(0.16652,0,0,0.15709,454.480,422.200)">N</text>
<text font-family="Liberation Sans" font-size="100" fill="#111" transform="matrix(0.16652,0,0,0.15709,470.192,422.200)">F</text>
<text font-family="Liberation Sans" font-size="100" fill="#111" transform="matrix(0.16652,0,0,0.15709,485.218,422.200)">S</text>
<text font-family="Liberation Sans" font-size="100" fill="#111" transform="matrix(0.16652,0,0,0.15709,500.328,422.200)">Y</text>
<text font-family="Liberation Sans" font-size="100" fill="#111" transform="matrix(0.16652,0,0,0.15709,515.124,422.200)">E</text>
<text font-family="Liberation Sans" font-size="100" fill="#111" transform="matrix(0.16652,0,0,0.15709,742.408,422.200)">V</text>
<text font-family="Liberation Sans" font-size="100" fill="#111" transform="matrix(0.16652,0,0,0.15709,758.058,422.200)">L</text>
<text font-family="Liberation Sans" font-size="100" fill="#111" transform="matrix(0.16652,0,0,0.15709,773.146,422.200)">T</text>
<text font-family="Liberation Sans" font-size="100" fill="#111" transform="matrix(0.16652,0,0,0.15709,787.548,422.200)">P</text>
<text font-family="Liberation Sans" font-size="100" fill="#111" transform="matrix(0.16652,0,0,0.15709,803.448,422.200)">L</text>
<text font-family="Liberation Sans" font-size="100" fill="#111" transform="matrix(0.16652,0,0,0.15709,817.475,422.200)">K</text>
<path d="M532.38,416.4h7.6" stroke="#111" stroke-width="1.7"/><path d="M547.51,416.4h7.6" stroke="#111" stroke-width="1.7"/><path d="M562.64,416.4h7.6" stroke="#111" stroke-width="1.7"/><path d="M577.77,416.4h7.6" stroke="#111" stroke-width="1.7"/><path d="M592.90,416.4h7.6" stroke="#111" stroke-width="1.7"/><path d="M608.03,416.4h7.6" stroke="#111" stroke-width="1.7"/><path d="M623.16,416.4h7.6" stroke="#111" stroke-width="1.7"/><path d="M638.29,416.4h7.6" stroke="#111" stroke-width="1.7"/><path d="M653.42,416.4h7.6" stroke="#111" stroke-width="1.7"/><path d="M668.55,416.4h7.6" stroke="#111" stroke-width="1.7"/><path d="M683.68,416.4h7.6" stroke="#111" stroke-width="1.7"/><path d="M698.81,416.4h7.6" stroke="#111" stroke-width="1.7"/><path d="M713.94,416.4h7.6" stroke="#111" stroke-width="1.7"/><path d="M729.07,416.4h7.6" stroke="#111" stroke-width="1.7"/>
<rect x="443.97" y="456.20" width="2.8" height="11.80" fill="#111"/>
<text font-family="Liberation Sans" font-size="100" fill="#111" transform="matrix(0.16960,0,0,0.16000,454.368,467.600)">N</text>
<text font-family="Liberation Sans" font-size="100" fill="#111" transform="matrix(0.16960,0,0,0.16000,470.092,467.600)">F</text>
<text font-family="Liberation Sans" font-size="100" fill="#111" transform="matrix(0.16960,0,0,0.16000,485.116,467.600)">S</text>
<text font-family="Liberation Sans" font-size="100" fill="#111" transform="matrix(0.16960,0,0,0.16000,500.225,467.600)">Y</text>
<text font-family="Liberation Sans" font-size="100" fill="#111" transform="matrix(0.16960,0,0,0.16000,515.015,467.600)">E</text>
<text font-family="Liberation Sans" font-size="100" fill="#111" transform="matrix(0.16960,0,0,0.16000,530.018,467.600)">N</text>
<text font-family="Liberation Sans" font-size="100" fill="#111" transform="matrix(0.16960,0,0,0.16000,545.636,467.600)">S</text>
<text font-family="Liberation Sans" font-size="100" fill="#111" transform="matrix(0.16960,0,0,0.16000,560.278,467.600)">H</text>
<text font-family="Liberation Sans" font-size="100" fill="#111" transform="matrix(0.16960,0,0,0.16000,575.896,467.600)">S</text>
<text font-family="Liberation Sans" font-size="100" fill="#111" transform="matrix(0.16960,0,0,0.16000,590.072,467.600)">Q</text>
<text font-family="Liberation Sans" font-size="100" fill="#111" transform="matrix(0.16960,0,0,0.16000,606.135,467.600)">A</text>
<rect x="625.52" y="456.20" width="2.8" height="11.80" fill="#111"/>
<text font-family="Liberation Sans" font-size="100" fill="#111" transform="matrix(0.16960,0,0,0.16000,635.928,467.600)">N</text>
<text font-family="Liberation Sans" font-size="100" fill="#111" transform="matrix(0.16960,0,0,0.16000,651.525,467.600)">V</text>
<text font-family="Liberation Sans" font-size="100" fill="#111" transform="matrix(0.16960,0,0,0.16000,665.891,467.600)">D</text>
<text font-family="Liberation Sans" font-size="100" fill="#111" transform="matrix(0.16960,0,0,0.16000,681.021,467.600)">R</text>
<text font-family="Liberation Sans" font-size="100" fill="#111" transform="matrix(0.16960,0,0,0.16000,697.402,467.600)">T</text>
<text font-family="Liberation Sans" font-size="100" fill="#111" transform="matrix(0.16960,0,0,0.16000,712.045,467.600)">A</text>
<text font-family="Liberation Sans" font-size="100" fill="#111" transform="matrix(0.16960,0,0,0.16000,727.705,467.600)">L</text>
<text font-family="Liberation Sans" font-size="100" fill="#111" transform="matrix(0.16960,0,0,0.16000,742.305,467.600)">V</text>
<text font-family="Liberation Sans" font-size="100" fill="#111" transform="matrix(0.16960,0,0,0.16000,757.965,467.600)">L</text>
<text font-family="Liberation Sans" font-size="100" fill="#111" transform="matrix(0.16960,0,0,0.16000,773.052,467.600)">T</text>
<text font-family="Liberation Sans" font-size="100" fill="#111" transform="matrix(0.16960,0,0,0.16000,787.440,467.600)">P</text>
<text font-family="Liberation Sans" font-size="100" fill="#111" transform="matrix(0.16960,0,0,0.16000,803.355,467.600)">L</text>
<text font-family="Liberation Sans" font-size="100" fill="#111" transform="matrix(0.16960,0,0,0.16000,817.361,467.600)">K</text>
<path d="M445.37,429.6V435.3M445.37,445.9V451.5" stroke="#111" stroke-width="1.4"/>
<text font-family="Liberation Sans" font-size="100" fill="#231f20" stroke="#231f20" stroke-width="0.3" vector-effect="non-scaling-stroke"  transform="matrix(0.10640,0,0,0.09894,439.433,444.001)">29</text>
<path d="M521.01,429.6V435.3M521.01,445.9V451.5" stroke="#111" stroke-width="1.4"/>
<text font-family="Liberation Sans" font-size="100" fill="#231f20" stroke="#231f20" stroke-width="0.3" vector-effect="non-scaling-stroke"  transform="matrix(0.10335,0,0,0.09894,515.227,444.001)">34</text>
<path d="M747.97,429.6V435.3M747.97,445.9V451.5" stroke="#111" stroke-width="1.4"/>
<text font-family="Liberation Sans" font-size="100" fill="#231f20" stroke="#231f20" stroke-width="0.3" vector-effect="non-scaling-stroke"  transform="matrix(0.10460,0,0,0.09894,742.173,444.001)">35</text>
<path d="M823.62,429.6V435.3M823.62,445.9V451.5" stroke="#111" stroke-width="1.4"/>
<text font-family="Liberation Sans" font-size="100" fill="#231f20" stroke="#231f20" stroke-width="0.3" vector-effect="non-scaling-stroke"  transform="matrix(0.10286,0,0,0.09894,817.984,444.001)">40</text>
<path d="M725.27,472.90H831.18V477.83H725.27ZM589.10,477.78H695.01V482.71H589.10ZM573.97,482.66H695.01V487.59H573.97ZM483.19,487.54H679.88V492.47H483.19ZM695.01,492.42H831.18V497.35H695.01ZM498.32,497.30H679.88V502.23H498.32ZM437.80,502.18H573.97V507.11H437.80Z" fill="#000"/>
<text font-family="Liberation Serif" font-size="100" font-weight="bold" fill="#000" letter-spacing="1.653" transform="matrix(0.21701,0,0,0.21069,4.020,561.800)">Modifications</text>
<text font-family="Liberation Serif" font-size="100" font-weight="bold" fill="#000" letter-spacing="-0.037" transform="matrix(0.21701,0,0,0.21069,142.295,561.800)">and</text>
<text font-family="Liberation Serif" font-size="100" font-weight="bold" fill="#000" letter-spacing="0.972" transform="matrix(0.21701,0,0,0.21069,184.132,561.800)">degradation</text>
<text font-family="Liberation Serif" font-size="100" font-weight="bold" fill="#000" letter-spacing="11.663" transform="matrix(0.21701,0,0,0.21069,304.186,561.800)">of</text>
<text font-family="Liberation Serif" font-size="100" font-style="italic" fill="#000" letter-spacing="5.027" transform="matrix(0.21069,0,0,0.21069,329.841,561.800)">Gigantopithecus</text>
<text font-family="Liberation Serif" font-size="100" font-weight="bold" fill="#000" letter-spacing="1.791" transform="matrix(0.21701,0,0,0.21069,489.540,561.800)">enamel</text>
<text font-family="Liberation Serif" font-size="100" font-weight="bold" fill="#000" letter-spacing="0.899" transform="matrix(0.21701,0,0,0.21069,563.429,561.800)">proteome.</text>
<rect x="139.2" y="553.4" width="1.6" height="1.6" fill="#555"/>
<rect x="181.2" y="553.4" width="1.6" height="1.6" fill="#555"/>
<rect x="301.59999999999997" y="553.4" width="1.6" height="1.6" fill="#555"/>
<rect x="327.2" y="553.4" width="1.6" height="1.6" fill="#555"/>
<rect x="486.7" y="553.4" width="1.6" height="1.6" fill="#555"/>
<rect x="560.6" y="553.4" width="1.6" height="1.6" fill="#555"/>
<path d="M331,565.5L333,566.5L335,565.5L337,566.5L339,565.5L341,566.5L343,565.5L345,566.5L347,565.5L349,566.5L351,565.5L353,566.5L355,565.5L357,566.5L359,565.5L361,566.5L363,565.5L365,566.5L367,565.5L369,566.5L371,565.5L373,566.5L375,565.5L377,566.5L379,565.5L381,566.5L383,565.5L385,566.5L387,565.5L389,566.5L391,565.5L393,566.5L395,565.5L397,566.5L399,565.5L401,566.5L403,565.5L405,566.5L407,565.5L409,566.5L411,565.5L413,566.5L415,565.5L417,566.5L419,565.5L421,566.5L423,565.5L425,566.5L427,565.5L429,566.5L431,565.5L433,566.5L435,565.5L437,566.5L439,565.5L441,566.5L443,565.5L445,566.5L447,565.5L449,566.5L451,565.5L453,566.5L455,565.5L457,566.5L459,565.5L461,566.5L463,565.5L465,566.5L467,565.5L469,566.5L471,565.5L473,566.5L475,565.5L477,566.5L479,565.5L481,566.5L483,565.5" fill="none" stroke="#e05050" stroke-width="0.6" opacity="0.8"/>
<path d="M9.5,-1.5V1.5H5.5M7.0,0.0L5.3,1.5L7.0,3.0" fill="none" stroke="#888" stroke-width="0.9"/>
<path d="M9.5,529V532.0H5.5M7.0,530.5L5.3,532.0L7.0,533.5" fill="none" stroke="#888" stroke-width="0.9"/>
<path d="M664.5,556V559.0H660.5M662.0,557.5L660.3,559.0L662.0,560.5" fill="none" stroke="#888" stroke-width="0.9"/>
<path d="M852.5,507.5V510.5H848.5M850.0,509.0L848.3,510.5L850.0,512.0" fill="none" stroke="#888" stroke-width="0.9"/>
<defs><radialGradient id="ball" cx="0.4" cy="0.35" r="0.7"><stop offset="0" stop-color="#b4bce0"/><stop offset="0.6" stop-color="#6a74b0"/><stop offset="1" stop-color="#2a3070"/></radialGradient><filter id="sh" x="-10%" y="-30%" width="130%" height="180%"><feGaussianBlur stdDeviation="0.9"/></filter></defs>
<rect x="797" y="516.9" width="5.9" height="8.2" fill="#1a1a1a"/>
<rect x="-2.8" y="-5" width="5.6" height="10" fill="#1a1a1a" transform="translate(786,525) rotate(-45)"/>
<rect x="-2.8" y="-5" width="5.6" height="10" fill="#1a1a1a" transform="translate(813.6,525) rotate(45)"/>
<path d="M782.4,536.9C785,530 792,525.7 799.8,525.7C807.6,525.7 814.6,530 817.2,536.9H811.8C809,532.5 805,530.3 799.8,530.3C794.6,530.3 790.6,532.5 788,536.9Z" fill="#f08c1e"/>
<path d="M782.4,539C785,546 792,551.6 799.8,551.6C807.6,551.6 814.6,546 817.2,539H811.8C809,543.8 805,546.3 799.8,546.3C794.6,546.3 790.6,543.8 788,539Z" fill="#f08c1e"/>
<circle cx="799.8" cy="538.6" r="6.4" fill="url(#ball)"/>
<path d="M784.4,564.6C788,558.5 793,555.0 799.7,555.0C806.4,555.0 811.4,558.5 814.6,564.6" fill="none" stroke="#1a1a1a" stroke-width="5"/>
<g fill="none" stroke="#4a4a4a" stroke-width="2.5" stroke-linecap="butt"><path d="M819,546.4V557.6H830.4V546.4M824.7,544.1V557.6"/><path d="M837.2,547.5H851.8M844.5,544.1V549C844,553 841,557 836.5,558.4M845,550C846.5,554 848.5,557 851.5,558.5"/></g>
<g fill="none" stroke="#4a4a4a" stroke-width="2.6"><path d="M858.5,544.3L860.5,546.5M857.1,548.2H862M861.5,548.5L857.3,553.8M860,550.5V558.7M861,551.8L862.6,553.4"/><path d="M864.2,545.2H871.8V553H864.2ZM868,547V552M866.6,553C866.3,556 865.2,557.8 863,558.6M869.3,553V557.2C869.3,558.2 870,558.4 872.8,558.4"/><path d="M885,544.1V548.5M886,546.2H892.9M878.6,548.6H891V552.8H878.6Z"/><path d="M879,555L877.8,558.6M882.6,555.3L883.2,558.6M886.4,555.3L887.4,558.6M890.4,555L892.4,558.6"/></g>
<text filter="url(#sh)" stroke="#3a3a3a" stroke-width="1.4" vector-effect="non-scaling-stroke" font-family="Liberation Sans" font-size="100" font-weight="bold" fill="#3a3a3a" transform="matrix(0.13644,0,0,0.11374,792.732,576.400)">view.sdu.edu.cn</text>
<text stroke="#fff" stroke-width="0.7" vector-effect="non-scaling-stroke" font-family="Liberation Sans" font-size="100" font-weight="bold" fill="#fff" transform="matrix(0.13644,0,0,0.10616,791.232,574.200)">view.sdu.edu.cn</text>
</svg></body></html>
